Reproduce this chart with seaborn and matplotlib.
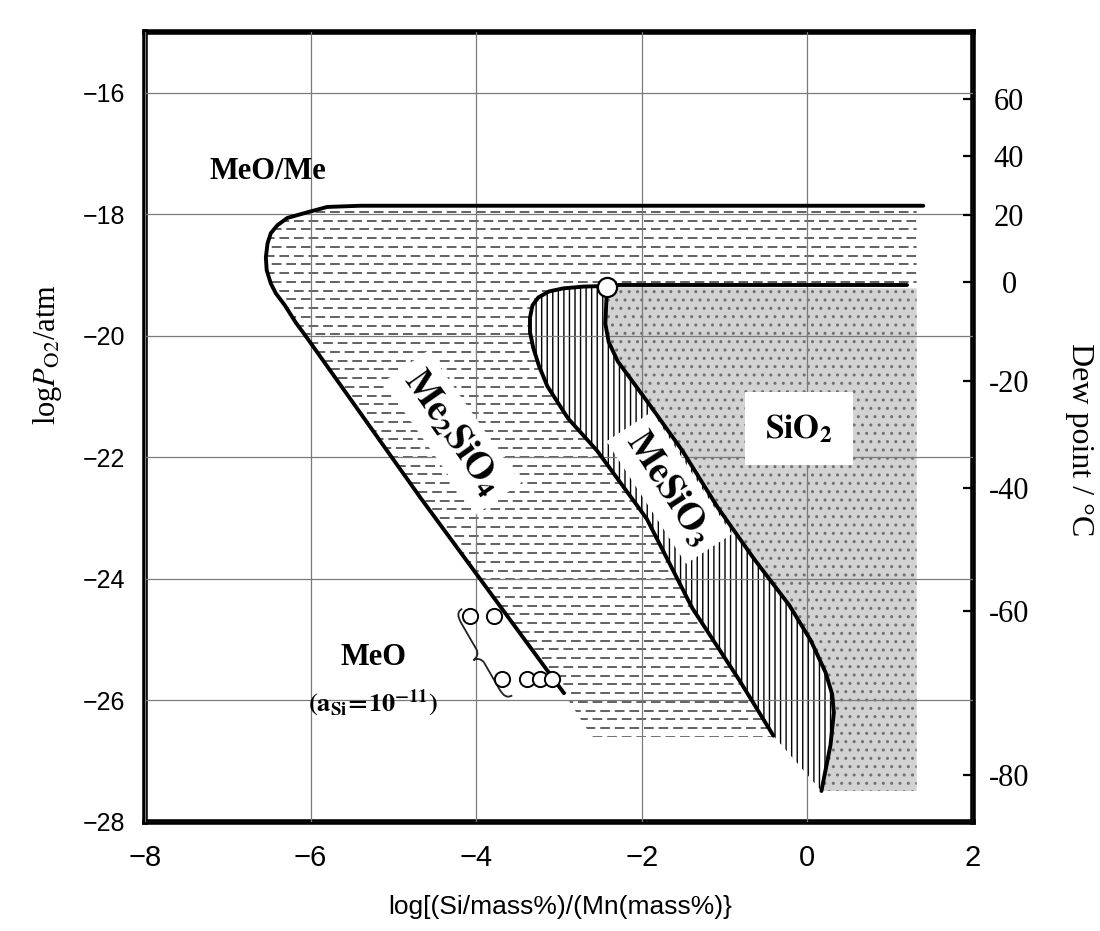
import numpy as np
import matplotlib
matplotlib.use('Agg')
import matplotlib.pyplot as plt
from matplotlib.patches import Polygon, PathPatch
from matplotlib.path import Path
from matplotlib.transforms import Affine2D, ScaledTranslation
import seaborn as sns

# ── 1. VALUES ────────────────────────────────
# MeO/Me boundary running into the MeO / Me2SiO4 boundary
outer_x = [1.40, -1.0, -4.0, -5.40, -5.80, -6.07, -6.28, -6.40, -6.48, -6.52,
           -6.54, -6.53, -6.48, -6.42, -6.31, -6.18, -6.04, -4.67, -2.94]
outer_y = [-17.86, -17.86, -17.86, -17.86, -17.88, -17.98, -18.06, -18.18, -18.31,
           -18.48, -18.71, -18.92, -19.14, -19.30, -19.50, -19.78, -20.04, -22.67,
           -25.88]

# Me2SiO4 / MeSiO3 boundary (starts at the triple point)
mesio3_left_x = [-2.42, -2.70, -2.95, -3.12, -3.25, -3.32, -3.35, -3.35, -3.31,
                 -3.24, -3.14, -2.89, -2.54, -1.94, -1.39, -0.82, -0.41]
mesio3_left_y = [-19.18, -19.19, -19.22, -19.27, -19.37, -19.50, -19.70, -19.94,
                 -20.20, -20.50, -20.83, -21.36, -21.89, -23.01, -24.48, -25.67,
                 -26.58]

# MeSiO3 / SiO2 boundary (starts at the triple point)
mesio3_right_x = [-2.42, -2.43, -2.44, -2.40, -2.29, -1.94, -1.51, -1.08, -0.65,
                  -0.22, 0.04, 0.22, 0.30, 0.32, 0.28, 0.17]
mesio3_right_y = [-19.20, -19.50, -19.80, -20.10, -20.42, -21.07, -21.89, -22.83,
                  -23.66, -24.43, -25.01, -25.54, -25.90, -26.20, -26.73, -27.49]

# Me2SiO4 / SiO2 boundary
sio2_line_x = [-2.42, 1.20]
sio2_line_y = [-19.17, -19.17]
triple_x = [-2.42]
triple_y = [-19.20]

# measured points (open circles)
meas_x = [-4.08, -3.78, -3.69, -3.39, -3.23, -3.08]
meas_y = [-24.61, -24.61, -25.65, -25.65, -25.65, -25.65]

# extent of the shaded fields
field_right = 1.32
me2sio4_bottom_x = [-2.60, -0.41]
me2sio4_bottom_y = [-26.60, -26.60]
sio2_bottom = -27.49

# axes
x_ticks = [-8, -6, -4, -2, 0, 2]
y_ticks = [-16, -18, -20, -22, -24, -26, -28]
dew_labels = [60, 40, 20, 0, -20, -40, -60, -80]
dew_pos = [-16.10, -17.04, -18.01, -19.12, -20.74, -22.50, -24.53, -27.22]

# ── 2. STYLE ─────────────────────────────────
sns.set_style('white')
plt.rcParams['font.family'] = ['Liberation Serif', 'DejaVu Serif']
plt.rcParams['mathtext.fontset'] = 'stix'
plt.rcParams['lines.scale_dashes'] = False
plt.rcParams['hatch.linewidth'] = 1.0
plt.rcParams['hatch.color'] = 'black'
for k in ['text.color', 'axes.labelcolor', 'xtick.color', 'ytick.color']:
    plt.rcParams[k] = 'black'

fig = plt.figure(figsize=(11, 9.31), dpi=100)
ax = fig.add_axes([0.1318, 0.1171, 0.7527, 0.8486])
ax.set_xlim(-8, 2)
ax.set_ylim(-28, -15)

# ── 3. SHADED FIELDS ─────────────────────────
# Me2SiO4 field: dashed horizontal hatching
me2_x = outer_x + me2sio4_bottom_x + mesio3_left_x[::-1] + [field_right, field_right]
me2_y = outer_y + me2sio4_bottom_y + mesio3_left_y[::-1] + [sio2_line_y[0], outer_y[0]]
me2_patch = Polygon(np.column_stack([me2_x, me2_y]), closed=True,
                    facecolor='none', edgecolor='none', zorder=1)
ax.add_patch(me2_patch)
rows = np.arange(me2sio4_bottom_y[0], outer_y[0], 0.144)   # hatch texture rows
for i, offset in enumerate([0, 5]):
    lc = ax.hlines(rows[i::2], -7, 1.5, colors='#555555', linewidth=1.3,
                   linestyles=[(offset, (7, 3.5))], zorder=1)
    lc.set_clip_path(me2_patch)

# MeSiO3 field: vertical hatching
ms_x = mesio3_left_x + mesio3_right_x[::-1]
ms_y = mesio3_left_y + mesio3_right_y[::-1]
ax.add_patch(Polygon(np.column_stack([ms_x, ms_y]), closed=True, facecolor='none',
                     edgecolor='black', linewidth=0, hatch='|||', zorder=1))

# SiO2 field: stipple
si_x = mesio3_right_x + [field_right, field_right]
si_y = mesio3_right_y + [sio2_bottom, sio2_line_y[0] - 0.05]
ax.add_patch(Polygon(np.column_stack([si_x, si_y]), closed=True, facecolor='#d2d2d2',
                     edgecolor='#707070', linewidth=0, hatch='..', zorder=1))

# ── 4. BOUNDARIES AND POINTS ─────────────────
for bx, by in [(outer_x, outer_y), (mesio3_left_x, mesio3_left_y),
               (mesio3_right_x, mesio3_right_y), (sio2_line_x, sio2_line_y)]:
    sns.lineplot(x=bx, y=by, sort=False, estimator=None, color='black',
                 linewidth=2.8, ax=ax, zorder=3)

sns.scatterplot(x=meas_x, y=meas_y, marker='o', s=120, facecolor='white',
                edgecolor='black', linewidth=1.4, ax=ax, zorder=6)
sns.scatterplot(x=triple_x, y=triple_y, marker='o', s=190, facecolor='white',
                edgecolor='black', linewidth=1.6, ax=ax, zorder=6)

# curly brace grouping the measured points (shape in pixels, placed at a data point)
brace = Path([(8, 50), (2, 50), (0, 46), (0, 38), (0, 8), (0, 3), (-4, 0), (-8, 0),
              (-4, 0), (0, -3), (0, -8), (0, -38), (0, -46), (2, -50), (8, -50)],
             [Path.MOVETO, Path.CURVE4, Path.CURVE4, Path.CURVE4, Path.LINETO,
              Path.CURVE4, Path.CURVE4, Path.CURVE4, Path.CURVE4, Path.CURVE4,
              Path.CURVE4, Path.LINETO, Path.CURVE4, Path.CURVE4, Path.CURVE4])
brace_tr = Affine2D().rotate_deg(30) + ScaledTranslation(-3.95, -25.27, ax.transData)
ax.add_patch(PathPatch(brace, facecolor='none', edgecolor='#222222', linewidth=1.3,
                       transform=brace_tr, zorder=5))

# ── 5. FIELD LABELS ──────────────────────────
box = dict(facecolor='white', edgecolor='none', boxstyle='square,pad=0.25')
ax.text(-6.51, -17.30, 'MeO/Me', fontsize=22, fontweight='bold',
        ha='center', va='center', zorder=5)
ax.text(-4.29, -21.59, r'$\mathbf{Me_2SiO_4}$', fontsize=27, rotation=-55,
        ha='center', va='center', bbox=box, zorder=5)
ax.text(-1.67, -22.50, r'$\mathbf{MeSiO_3}$', fontsize=27, rotation=-57,
        ha='center', va='center', bbox=box, zorder=5)
ax.text(-0.10, -21.53, r'$\mathbf{SiO_2}$', fontsize=24, ha='center', va='center',
        bbox=dict(facecolor='white', edgecolor='none', boxstyle='square,pad=0.6'),
        zorder=5)
ax.text(-5.24, -25.29, 'MeO', fontsize=22, fontweight='bold',
        ha='center', va='center', zorder=5)
ax.text(-5.25, -26.05, r'$\mathbf{(a_{Si}\!=\!10^{-11})}$', fontsize=19,
        ha='center', va='center', zorder=5)

# ── 6. AXES ──────────────────────────────────
ax.set_xticks(x_ticks, labels=[f'\u2212{abs(v)}' if v < 0 else str(v) for v in x_ticks])
ax.set_yticks(y_ticks, labels=[f'\u2212{abs(v)}' for v in y_ticks])
ax.grid(True, color='#7a7a7a', linewidth=0.9)
ax.set_axisbelow(False)
for s in ax.spines.values():
    s.set_visible(True)
    s.set_linewidth(4)
    s.set_color('black')
ax.tick_params(axis='both', length=0)
ax.tick_params(axis='y', pad=14, labelsize=18)
ax.tick_params(axis='x', pad=16, labelsize=21)
for lbl in ax.get_yticklabels():
    lbl.set_fontfamily(['Liberation Sans', 'DejaVu Sans'])
for lbl in ax.get_xticklabels():
    lbl.set_fontfamily(['Liberation Sans Narrow', 'Liberation Sans', 'DejaVu Sans'])

ax.set_xlabel('log[(Si/mass%)/(Mn(mass%)}', fontsize=19,
              fontfamily=['Liberation Sans Narrow', 'Liberation Sans', 'DejaVu Sans'])
ax.xaxis.set_label_coords(0.502, -0.093)
ax.set_ylabel(r'log$P_{\rm O2}$/atm', fontsize=22)
ax.yaxis.set_label_coords(-0.098, 0.591)

# dew point scale on the right
ax2 = ax.twinx()
ax2.set_ylim(-28, -15)
ax2.set_yticks(dew_pos, labels=[str(d) for d in dew_labels])
for s in ax2.spines.values():
    s.set_visible(False)
ax2.tick_params(axis='y', right=True, left=False, labelright=True, direction='in',
                length=7, width=1.6, pad=26, labelsize=22)
for lbl in ax2.get_yticklabels():
    lbl.set_ha('center')
ax2.set_ylabel('Dew point / °C', fontsize=23, rotation=270, va='center', ha='center')
ax2.yaxis.set_label_coords(1.129, 0.484)

fig.savefig('out.png', dpi=100)
